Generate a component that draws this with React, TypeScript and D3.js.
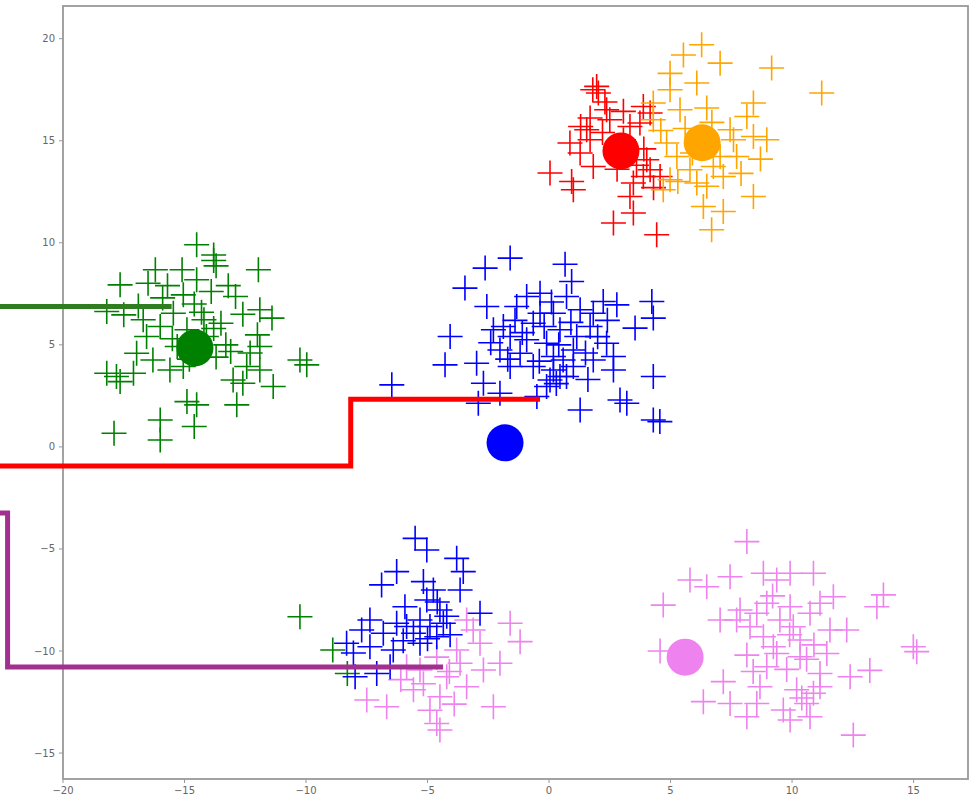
import React from "react";
import * as d3 from "d3";

const xTicks = [-20, -15, -10, -5, 0, 5, 10, 15];
const yTicks = [-15, -10, -5, 0, 5, 10, 15, 20];

const greenPoints: [number, number][] = [
  [-14.5, 9.9], [-13.8, 9.4], [-13.8, 9.13], [-13.7, 8.87], [-11.96, 8.68], [-16.2, 8.68],
  [-17.65, 7.94], [-16.5, 8.02], [-15.1, 8.68], [-14.5, 8.19], [-15.05, 7.45], [-13.9, 7.61],
  [-12.9, 7.37], [-11.9, 6.72], [-11.4, 6.31], [-18.2, 6.63], [-17.5, 6.47], [-16.7, 6.23],
  [-16.0, 5.9], [-15.46, 6.55], [-13.5, 6.06], [-12.0, 5.49], [-11.9, 4.92], [-10.25, 4.26],
  [-9.97, 4.02], [-18.2, 3.61], [-17.8, 3.45], [-17.65, 3.2], [-16.97, 4.59], [-16.3, 4.26],
  [-15.6, 3.77], [-15.05, 3.94], [-13.1, 4.67], [-12.44, 3.94], [-13.0, 3.28], [-12.6, 3.12],
  [-11.9, 3.77], [-11.35, 2.96], [-14.9, 2.22], [-14.5, 2.06], [-12.85, 2.06], [-17.9, 0.67],
  [-16.0, 1.32], [-16.0, 0.34], [-14.6, 1.0], [-17.1, 3.61], [-14.1, 5.41], [-14.9, 5.74],
  [-16.56, 5.41], [-14.2, 6.23], [-15.3, 4.92], [-14.3, 6.6], [-13.8, 5.8], [-15.5, 5.3],
  [-13.3, 5.0], [-14.8, 4.3], [-13.7, 4.4], [-15.9, 7.3], [-15.7, 7.9], [-12.6, 6.5],
  [-13.2, 7.9], [-14.6, 7.0], [-16.9, 6.9], [-12.3, 4.6],
  [-10.25, -8.32], [-8.9, -9.95], [-8.3, -11.1],
];

const redPoints: [number, number][] = [
  [1.96, 17.66], [2.03, 17.34], [1.8, 17.5], [2.37, 16.52], [3.06, 16.44], [3.88, 16.68],
  [4.16, 16.36], [1.69, 16.11], [1.55, 15.54], [0.86, 14.89], [1.69, 15.05], [3.33, 15.7],
  [3.74, 15.87], [1.28, 14.4], [1.82, 13.74], [0.04, 13.42], [0.93, 13.0], [1.0, 12.6],
  [4.02, 14.07], [3.88, 13.25], [3.47, 12.93], [3.33, 12.27], [2.65, 10.97], [3.47, 11.46],
  [4.43, 10.39], [4.57, 13.25], [4.16, 13.58], [2.5, 16.03], [3.06, 15.05], [2.2, 15.4],
  [3.9, 14.6], [4.3, 12.7], [2.8, 13.6], [2.3, 16.9], [3.6, 13.8], [1.3, 15.7],
];

const orangePoints: [number, number][] = [
  [6.28, 19.7], [5.53, 19.2], [7.04, 18.8], [9.16, 18.56], [11.22, 17.34], [4.98, 18.3],
  [6.08, 17.83], [4.98, 17.5], [8.41, 16.85], [4.29, 16.85], [5.39, 16.52], [6.49, 16.6],
  [8.14, 16.19], [8.96, 15.05], [8.41, 15.21], [7.45, 15.54], [4.84, 14.89], [5.26, 14.23],
  [7.04, 14.23], [7.72, 14.23], [5.8, 13.58], [6.76, 13.74], [4.98, 13.09], [6.08, 12.93],
  [6.49, 12.77], [7.17, 13.25], [8.41, 12.27], [6.35, 11.78], [7.17, 11.53], [6.69, 10.64],
  [4.7, 12.6], [7.59, 15.05], [4.29, 16.03], [5.6, 15.6], [4.6, 15.5], [5.9, 14.4],
  [7.9, 13.4], [5.3, 13.0], [6.7, 15.9], [8.7, 14.1],
];

const violetPoints: [number, number][] = [
  [8.14, -4.64], [5.8, -6.52], [6.49, -6.85], [7.45, -6.36], [8.82, -6.19], [9.37, -6.52],
  [9.92, -6.19], [10.88, -6.19], [4.7, -7.75], [11.7, -7.34], [13.76, -7.25], [13.49, -7.83],
  [7.86, -7.99], [8.96, -7.66], [9.92, -7.83], [10.74, -8.15], [7.04, -8.48], [8.27, -8.81],
  [9.5, -8.48], [11.56, -8.97], [12.25, -8.97], [8.82, -9.3], [10.33, -9.46], [14.99, -9.79],
  [15.13, -10.03], [4.57, -10.0], [8.14, -10.2], [9.37, -10.12], [10.33, -10.28], [11.43, -10.12],
  [8.96, -10.77], [9.78, -10.9], [11.15, -11.1], [12.39, -11.26], [13.2, -10.95], [7.17, -11.5],
  [8.68, -11.75], [10.19, -11.9], [10.88, -12.07], [6.35, -12.48], [7.45, -12.57], [8.55, -12.57],
  [9.64, -12.89], [10.6, -12.57], [8.14, -13.22], [9.92, -13.38], [10.74, -13.22], [12.52, -14.12],
  [11.15, -11.75], [9.23, -9.79], [7.72, -8.48], [11.15, -7.66], [8.55, -8.15], [10.05, -8.81],
  [10.6, -10.4], [9.9, -9.2], [10.9, -9.7], [8.4, -11.0], [10.4, -12.3], [9.2, -7.3],
  [-1.6, -8.64], [-1.19, -9.54], [-3.12, -8.97], [-2.02, -10.6], [-2.7, -10.93], [-3.8, -9.95],
  [-4.62, -10.3], [-5.31, -10.93], [-4.21, -11.26], [-3.39, -11.75], [-2.29, -12.73], [-4.49, -12.24],
  [-5.58, -11.9], [-6.68, -12.73], [-7.5, -12.4], [-4.62, -13.55], [-4.49, -13.87], [-4.9, -12.9],
  [-3.66, -10.6], [-5.86, -10.77], [-2.84, -9.62], [-3.39, -8.48], [-5.17, -11.6], [-6.1, -11.4],
  [-3.9, -12.6], [-4.1, -11.0],
];

const bluePoints: [number, number][] = [
  [-1.6, 9.25], [-2.63, 8.76], [-3.46, 7.78], [0.66, 8.95], [0.93, 8.1], [-0.37, 7.53],
  [-0.92, 7.37], [-2.56, 6.88], [-1.33, 6.88], [0.18, 6.55], [1.28, 6.72], [2.23, 7.12],
  [2.79, 6.96], [4.23, 7.12], [4.29, 6.31], [3.54, 5.82], [-4.07, 5.41], [-1.88, 5.9],
  [-1.6, 5.41], [-0.65, 6.06], [0.45, 5.74], [1.69, 5.9], [2.37, 5.08], [-0.1, 5.08],
  [1.0, 4.75], [-2.02, 4.75], [-4.28, 4.02], [-2.98, 4.1], [-1.6, 3.94], [-0.65, 3.94],
  [0.18, 3.77], [0.45, 3.45], [1.0, 3.94], [1.82, 4.26], [2.65, 3.77], [4.29, 3.45],
  [-6.47, 3.04], [-2.7, 3.12], [-2.02, 2.63], [-2.91, 2.14], [-0.1, 2.96], [0.04, 3.28],
  [1.28, 1.81], [2.92, 2.3], [3.2, 2.14], [4.29, 1.32], [4.56, 1.24], [-0.5, 2.47],
  [0.58, 4.26], [-1.19, 4.59], [1.82, 6.55], [0.72, 7.37], [-0.37, 6.55], [-2.29, 5.74],
  [2.65, 4.43], [0.18, 4.43], [1.14, 5.41], [-0.92, 5.25], [0.72, 3.45], [-1.4, 6.2],
  [-0.2, 5.9], [0.9, 6.1], [2.0, 5.4], [-1.1, 5.6], [0.4, 5.0], [1.5, 4.6], [-0.4, 4.2],
  [0.3, 3.1], [-1.7, 4.3], [2.4, 6.2], [0.1, 7.1], [1.6, 3.3], [-2.4, 5.1],
  [-5.51, -4.48], [-5.03, -5.05], [-3.8, -5.46], [-3.53, -6.11], [-6.27, -6.11], [-6.89, -6.76],
  [-5.17, -6.6], [-4.76, -7.01], [-3.66, -7.01], [-5.03, -7.5], [-5.93, -7.83], [-4.49, -7.99],
  [-2.84, -8.15], [-7.37, -8.48], [-6.27, -8.64], [-5.31, -8.48], [-4.35, -8.64], [-7.71, -8.97],
  [-6.82, -9.13], [-5.58, -9.13], [-4.62, -9.3], [-4.07, -9.2], [-8.33, -9.62], [-7.37, -9.79],
  [-6.41, -9.95], [-5.31, -9.62], [-8.05, -10.1], [-6.54, -10.77], [-7.09, -11.1], [-7.98, -11.26],
  [-5.86, -8.8], [-4.9, -8.8], [-4.21, -8.3], [-5.0, -9.4], [-6.0, -9.5], [-4.6, -7.6],
];

const centroidNames = ["green", "red", "orange", "blue", "violet"];
const centroidX = [-14.57, 2.96, 6.3, -1.81, 5.6];
const centroidY = [4.85, 14.5, 14.9, 0.2, -10.3];

const greenLine: [number, number][] = [[-24, 6.88], [-15.53, 6.88]];
const redLine: [number, number][] = [[-24, -0.93], [-8.16, -0.93], [-8.16, 2.34], [-0.37, 2.34]];
const purpleLine: [number, number][] = [[-24, -3.24], [-22.28, -3.24], [-22.28, -10.78], [-4.36, -10.78]];

const W = 978;
const H = 797;
const plotLeft = 63;
const plotRight = 968;
const plotTop = 6;
const plotBottom = 779;

export default function App() {
  const x = d3.scaleLinear().domain([-20, 17.24]).range([plotLeft, plotRight]);
  const y = d3.scaleLinear().domain([-16.27, 21.6]).range([plotBottom, plotTop]);
  const line = d3.line<[number, number]>().x((d) => x(d[0])).y((d) => y(d[1]));
  const fmt = d3.format("d");
  const plus = "M-12.5,0H12.5M0,-12.5V12.5";

  const groups: { pts: [number, number][]; color: string }[] = [
    { pts: greenPoints, color: "green" },
    { pts: redPoints, color: "red" },
    { pts: orangePoints, color: "orange" },
    { pts: violetPoints, color: "violet" },
    { pts: bluePoints, color: "blue" },
  ];

  return (
    <svg
      width={W}
      height={H}
      style={{ position: "absolute", left: 0, top: 0, background: "#fff" }}
      fontFamily="DejaVu Sans, sans-serif"
    >
      <rect x={0} y={0} width={W} height={H} fill="#fff" />
      {groups.map((g, gi) => (
        <g key={gi} stroke={g.color} strokeWidth={1.6} fill="none">
          {g.pts.map((p, i) => (
            <path key={i} d={plus} transform={`translate(${x(p[0])},${y(p[1])})`} />
          ))}
        </g>
      ))}
      {centroidNames.map((c, i) => (
        <circle key={c} cx={x(centroidX[i])} cy={y(centroidY[i])} r={18.5} fill={c} />
      ))}
      <rect
        x={plotLeft}
        y={plotTop}
        width={plotRight - plotLeft}
        height={plotBottom - plotTop}
        fill="none"
        stroke="#999"
        strokeWidth={1.8}
      />
      {xTicks.map((t) => (
        <g key={"x" + t} transform={`translate(${x(t)},${plotBottom})`}>
          <line y1={0} y2={4} stroke="#999" strokeWidth={1} />
          <text y={15} textAnchor="middle" fontSize={10} fill="#666">
            {fmt(t)}
          </text>
        </g>
      ))}
      {yTicks.map((t) => (
        <g key={"y" + t} transform={`translate(${plotLeft},${y(t)})`}>
          <line x1={0} x2={-4} stroke="#999" strokeWidth={1} />
          <text x={-8} dy="0.35em" textAnchor="end" fontSize={10} fill="#666">
            {fmt(t)}
          </text>
        </g>
      ))}
      <path d={line(greenLine) || ""} stroke="#2f7d20" strokeWidth={5} fill="none" />
      <path d={line(redLine) || ""} stroke="#ff0000" strokeWidth={5} fill="none" />
      <path d={line(purpleLine) || ""} stroke="#a1308f" strokeWidth={5} fill="none" />
    </svg>
  );
}
